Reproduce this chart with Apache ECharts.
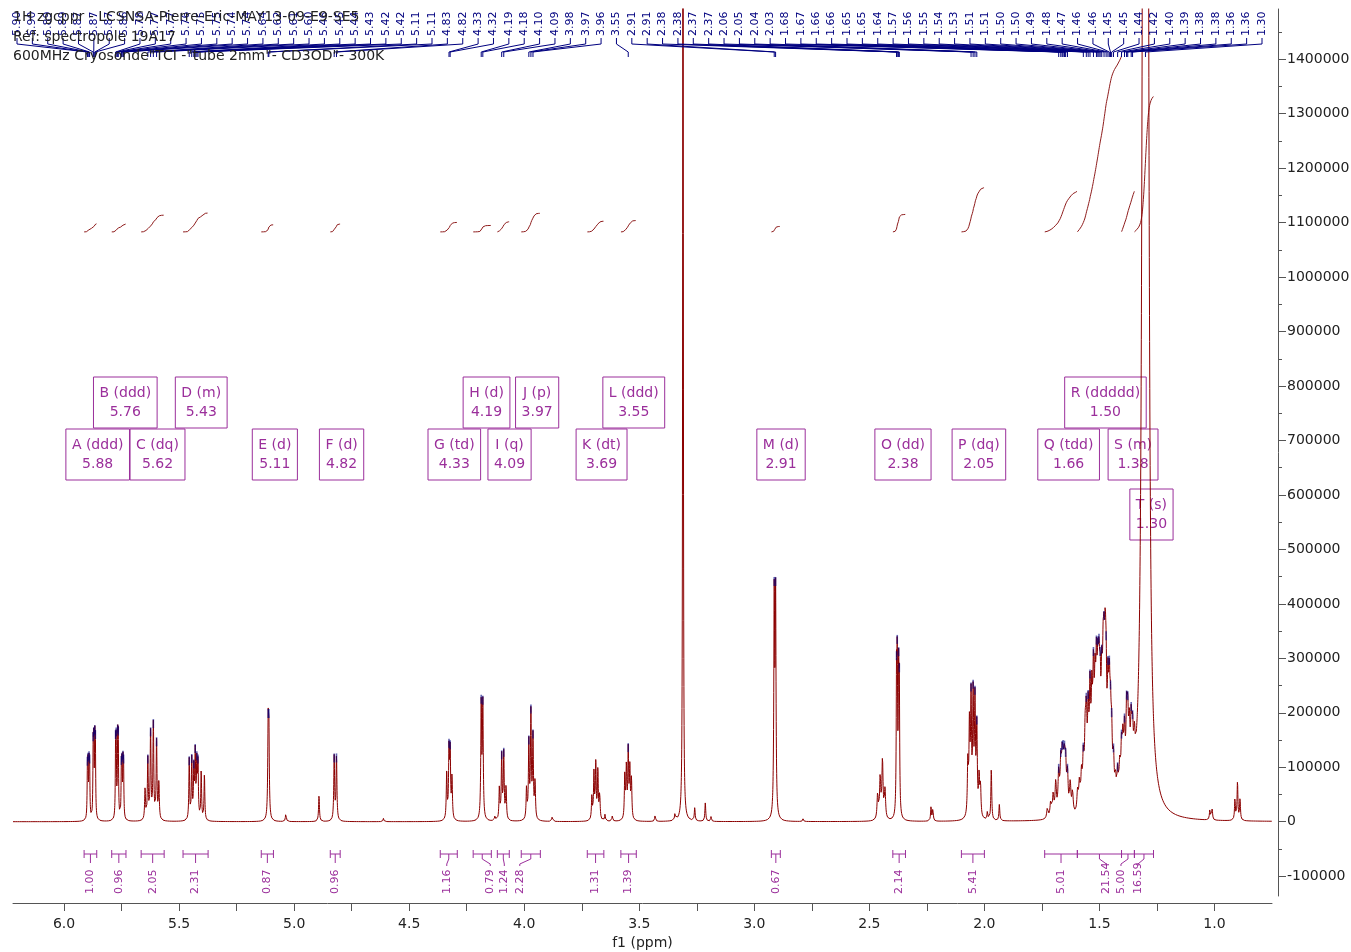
<!DOCTYPE html>
<html>
<head>
<meta charset="utf-8">
<title>1H NMR - CD3OD</title>
<script src="https://cdn.jsdelivr.net/npm/echarts@6/dist/echarts.min.js"></script>
<style>
  html, body { margin: 0; padding: 0; background: #ffffff; }
  #chart { width: 1351px; height: 952px; }
</style>
</head>
<body>
<div id="chart"></div>
<script>
// ---- Resolved lines of each multiplet: [shift (ppm), height] ----
const sigA = [[5.8985, 87000], [5.8960, 87000], [5.8915, 89000], [5.8890, 89000],
              [5.8735, 120000], [5.8710, 120000], [5.8665, 124000], [5.8640, 124000]];
const sigB = [[5.7760, 126000], [5.7735, 126000], [5.7670, 130000], [5.7645, 130000],
              [5.7510, 86000], [5.7485, 86000], [5.7440, 90000], [5.7415, 90000]];
const sigC = [[5.648, 58000], [5.636, 112000], [5.624, 160000], [5.612, 176000], [5.598, 144000], [5.588, 68000]];
const sigD = [[5.456, 112000], [5.445, 112000], [5.436, 90000], [5.430, 118000], [5.423, 100000], [5.418, 100000],
              [5.404, 90000], [5.390, 85000]];
const sigE = [[5.113, 152000], [5.110, 152000]];
const sigF = [[4.826, 118000], [4.816, 118000]];
const sigG = [[4.337, 85000], [4.327, 125000], [4.322, 120000], [4.314, 76000]];
const sigH = [[4.187, 212000], [4.180, 210000]];
const sigI = [[4.108, 60000], [4.098, 118000], [4.089, 123000], [4.079, 62000]];
const sigJ = [[3.990, 58000], [3.980, 140000], [3.971, 195000], [3.962, 150000], [3.953, 70000]];
const sigK = [[3.706, 44000], [3.697, 86000], [3.689, 102000], [3.680, 91000], [3.672, 48000]];
const sigL = [[3.563, 80000], [3.556, 94000], [3.548, 124000], [3.541, 90000], [3.534, 73000]];
const sigSolvent = [[3.3100, 3000000]];
const sigM = [[2.9135, 400000], [2.9075, 400000]];
const sigN = [[2.464, 48000], [2.453, 76000], [2.443, 108000], [2.432, 54000]];
const sigO = [[2.3818, 230000], [2.3788, 252000], [2.3728, 232000], [2.3698, 212000]];
const sigP = [[2.072, 95000], [2.065, 160000], [2.058, 210000], [2.049, 215000], [2.041, 205000], [2.033, 160000], [2.023, 72000], [2.017, 58000]];
const sigQ = [[1.726, 20000], [1.712, 28000], [1.701, 40000], [1.690, 60000], [1.677, 75000], [1.668, 85000], [1.662, 70000],
              [1.658, 70000], [1.652, 80000], [1.647, 75000], [1.639, 70000], [1.627, 55000], [1.617, 40000]];
const sigR = [[1.595, 38000], [1.587, 50000], [1.578, 60000], [1.570, 85000], [1.562, 110000], [1.557, 140000], [1.549, 150000],
              [1.541, 185000], [1.533, 165000], [1.526, 200000], [1.519, 165000], [1.513, 190000], [1.507, 165000], [1.502, 165000],
              [1.497, 155000], [1.490, 170000], [1.484, 170000], [1.480, 165000], [1.475, 195000], [1.471, 160000], [1.463, 170000],
              [1.457, 165000], [1.452, 115000], [1.447, 100000], [1.439, 75000]];
const sigS = [[1.430, 40000], [1.421, 55000], [1.412, 60000], [1.404, 90000], [1.398, 90000], [1.391, 110000], [1.382, 130000],
              [1.377, 115000], [1.370, 100000], [1.362, 105000], [1.356, 80000], [1.348, 60000]];
const sigT = [[1.311, 900000], [1.305, 1300000], [1.300, 1500000], [1.295, 1300000], [1.289, 900000]];
const sigMinor = [[5.036, 16000], [4.892, 48000], [4.612, 6000], [4.127, 9000], [3.878, 10000], [3.649, 12000], [3.617, 10000],
                  [3.431, 12000], [3.345, 12000], [3.259, 24000], [3.213, 34000], [3.188, 9000], [2.788, 5000], [2.232, 26000],
                  [2.224, 22000], [1.987, 15000], [1.970, 95000], [1.935, 30000], [1.020, 20000], [1.010, 20000],
                  [0.911, 40000], [0.900, 70000], [0.889, 40000]];

// ---- Picked peaks (ppm) ----
const pickShifts = [
  5.8985, 5.8960, 5.8915, 5.8890, 5.8735, 5.8710, 5.8665, 5.8640,
  5.7760, 5.7735, 5.7670, 5.7645, 5.7510, 5.7485, 5.7440, 5.7415,
  5.636, 5.624, 5.612, 5.598,
  5.456, 5.4452, 5.436, 5.430, 5.423, 5.418,
  5.113, 5.110, 4.826, 4.816, 4.327, 4.322, 4.187, 4.180, 4.098, 4.089,
  3.980, 3.971, 3.962, 3.548, 2.9135, 2.9075, 2.3818, 2.3788, 2.3728, 2.3698,
  2.058, 2.049, 2.041, 2.033,
  1.677, 1.668, 1.662, 1.658, 1.652, 1.647, 1.639,
  1.570, 1.557, 1.549, 1.541, 1.526, 1.513, 1.507, 1.502, 1.497, 1.490, 1.480, 1.471, 1.463, 1.457,
  1.452, 1.447, 1.439, 1.421, 1.404, 1.391, 1.382, 1.377, 1.362, 1.356, 1.300
];

// ---- Multiplet report ----
const multLetters = ['A', 'B', 'C', 'D', 'E', 'F', 'G', 'H', 'I', 'J', 'K', 'L', 'M', 'O', 'P', 'Q', 'R', 'S', 'T'];
const multTypes = ['ddd', 'ddd', 'dq', 'm', 'd', 'd', 'td', 'd', 'q', 'p', 'dt', 'ddd', 'd', 'dd', 'dq', 'tdd', 'ddddd', 'm', 's'];
const multShifts = [5.88, 5.76, 5.62, 5.43, 5.11, 4.82, 4.33, 4.19, 4.09, 3.97, 3.69, 3.55, 2.91, 2.38, 2.05, 1.66, 1.50, 1.38, 1.30];

// ---- Integration regions ----
const intFrom = [5.913, 5.793, 5.665, 5.483, 5.143, 4.843, 4.365, 4.222, 4.117, 4.013, 3.726, 3.580, 2.926, 2.398, 2.100, 1.738, 1.596, 1.404, 1.348];
const intTo = [5.858, 5.731, 5.565, 5.374, 5.090, 4.800, 4.291, 4.143, 4.065, 3.930, 3.654, 3.513, 2.887, 2.343, 2.000, 1.596, 1.404, 1.348, 1.265];
const intValues = [1.00, 0.96, 2.05, 2.31, 0.87, 0.96, 1.16, 0.79, 1.24, 2.28, 1.31, 1.39, 0.67, 2.14, 5.41, 5.01, 21.54, 5.00, 16.59];

// ---- Axis ticks ----
const xLabelValues = [1.0, 1.5, 2.0, 2.5, 3.0, 3.5, 4.0, 4.5, 5.0, 5.5, 6.0];
const xTickValues = [1.0, 1.25, 1.5, 1.75, 2.0, 2.25, 2.5, 2.75, 3.0, 3.25, 3.5, 3.75, 4.0, 4.25, 4.5, 4.75, 5.0, 5.25, 5.5, 5.75, 6.0];
const yLabelValues = [-100000, 0, 100000, 200000, 300000, 400000, 500000, 600000, 700000, 800000, 900000, 1000000, 1100000, 1200000, 1300000, 1400000];
const yMinorValues = [-50000, 50000, 150000, 250000, 350000, 450000, 550000, 650000, 750000, 850000, 950000, 1050000, 1150000, 1250000, 1350000, 1450000];

// ---- Styling / layout ----
const FONT = '"DejaVu Sans", Verdana, sans-serif';
const RED = '#8b0000';
const INT_RED = '#8f1d1d';
const NAVY = '#00007f';
const PURPLE = '#9b2f9b';
const AXIS = '#555555';
const TEXT = '#222222';

// line half-width at half height (ppm) for each multiplet
const lineGroups = [
  [sigA, 0.0015], [sigB, 0.0015], [sigC, 0.0022], [sigD, 0.0020], [sigE, 0.0022], [sigF, 0.0022],
  [sigG, 0.0022], [sigH, 0.0022], [sigI, 0.0022], [sigJ, 0.0022], [sigK, 0.0022], [sigL, 0.0022],
  [sigSolvent, 0.0012], [sigM, 0.0022], [sigN, 0.003], [sigO, 0.0018], [sigP, 0.0025],
  [sigQ, 0.0035], [sigR, 0.0035], [sigS, 0.0035], [sigT, 0.006], [sigMinor, 0.0022]
];
const lines = [];
lineGroups.forEach(([g, w]) => g.forEach(([d, h]) => lines.push([d, h, w])));

// Lorentzian line-shape sum
function intensity(ppm) {
  let s = 0;
  for (let k = 0; k < lines.length; k++) {
    const u = (ppm - lines[k][0]) / lines[k][2];
    s += lines[k][1] / (1 + u * u);
  }
  return s;
}

const X_MIN = 0.75, X_MAX = 6.222, STEP = 0.0004;
const Y_MIN = -136400, Y_MAX = 1492300;
const spectrum = [];
for (let p = X_MAX; p >= X_MIN; p -= STEP) spectrum.push([p, intensity(p)]);

// integral curves (running sum over each region, scaled to the reported value)
const INT_BASE = 1083000, INT_UNIT = 15000;
const integralSeries = intFrom.map((from, i) => {
  const to = intTo[i];
  const pts = spectrum.filter(d => d[0] <= from && d[0] >= to);
  const total = pts.reduce((a, d) => a + d[1], 0);
  let cum = 0;
  const data = pts.map(d => { cum += d[1]; return [d[0], INT_BASE + cum / total * intValues[i] * INT_UNIT]; });
  return {
    type: 'line', data, showSymbol: false, silent: true, animation: false,
    lineStyle: { color: INT_RED, width: 1 }, z: 3
  };
});

// layout of the multiplet boxes (row of each box, box row tops in px)
const boxRow = [1, 0, 1, 0, 1, 1, 1, 0, 1, 0, 1, 0, 1, 1, 1, 1, 0, 1, 2];
const rowTop = [377, 429, 489];
// horizontal shift of rotated integral labels that are moved aside
const intLabelShift = [0, 0, 0, 0, 0, 0, -2, 8, 1, -11, 0, 0, 0, 0, 0, 0, 7, -7, -6];

const PICK_X0 = 17, PICK_STEP = (1262 - 17) / 81;

const chart = echarts.init(document.getElementById('chart'));

const option = {
  animation: false,
  backgroundColor: '#ffffff',
  grid: { left: 13, right: 79, top: 9, bottom: 56, containLabel: false, outerBoundsMode: 'none' },
  xAxis: {
    type: 'value', inverse: true, min: X_MIN, max: X_MAX, offset: 7,
    name: 'f1 (ppm)', nameLocation: 'middle', nameGap: 28,
    nameTextStyle: { fontFamily: FONT, fontSize: 14, color: TEXT },
    axisLine: { show: true, onZero: false, lineStyle: { color: AXIS, width: 1 } },
    axisTick: { show: true, length: 8, lineStyle: { color: AXIS }, customValues: xTickValues },
    axisLabel: { fontFamily: FONT, fontSize: 14, color: TEXT, margin: 14, customValues: xLabelValues,
                 formatter: v => Number(v).toFixed(1) },
    splitLine: { show: false }
  },
  yAxis: [{
    type: 'value', position: 'right', offset: 6, min: Y_MIN, max: Y_MAX,
    axisLine: { show: true, onZero: false, lineStyle: { color: AXIS, width: 1 } },
    axisTick: { show: true, length: 8, lineStyle: { color: AXIS }, customValues: yLabelValues },
    axisLabel: { fontFamily: FONT, fontSize: 14, color: TEXT, margin: 9, customValues: yLabelValues,
                 formatter: v => String(v) },
    splitLine: { show: false }
  }, {
    type: 'value', position: 'right', offset: 6, min: Y_MIN, max: Y_MAX,
    axisLine: { show: false, onZero: false },
    axisTick: { show: true, length: 4, lineStyle: { color: AXIS }, customValues: yMinorValues },
    axisLabel: { show: false },
    splitLine: { show: false }
  }],
  graphic: [
    { type: 'text', left: 13, top: 10, z: 50, style: { text: '1H zgcppr - LCSNSA-Pierre-Eric-MAY13-09-E9-SE5', font: '14px ' + FONT, fill: TEXT } },
    { type: 'text', left: 13, top: 30, z: 50, style: { text: 'Réf: spectropole 19A17', font: '14px ' + FONT, fill: TEXT } },
    { type: 'text', left: 13, top: 49, z: 50, style: { text: '600MHz Cryosonde"TCI -"tube 2mm"- CD3OD"- 300K', font: '14px ' + FONT, fill: TEXT } }
  ],
  series: [
    {
      type: 'line', data: spectrum, showSymbol: false, silent: true, clip: true, sampling: false,
      lineStyle: { color: RED, width: 1 }, z: 4
    },
    ...integralSeries,
    {
      // peak-pick marks on top of the picked lines
      type: 'custom', silent: true, z: 5,
      data: pickShifts.map(p => [p, intensity(p)]),
      renderItem(params, api) {
        const pt = api.coord([api.value(0), api.value(1)]);
        if (pt[1] < params.coordSys.y + 2) return null;
        return { type: 'line', shape: { x1: pt[0], y1: pt[1] - 1, x2: pt[0], y2: pt[1] + 8 },
                 style: { stroke: NAVY, lineWidth: 1.6, opacity: 0.6 } };
      }
    },
    {
      // rotated peak labels with leader lines
      type: 'custom', silent: true, z: 6,
      data: pickShifts.map((p, i) => [p, i]),
      renderItem(params, api) {
        const i = api.value(1);
        const px = api.coord([api.value(0), 0])[0];
        const lx = PICK_X0 + i * PICK_STEP;
        return {
          type: 'group', children: [
            { type: 'text', x: lx, y: 36, rotation: Math.PI / 2,
              style: { text: pickShifts[i].toFixed(2), font: '11px ' + FONT, fill: NAVY, align: 'left', verticalAlign: 'middle' } },
            { type: 'polyline', shape: { points: [[lx, 38], [lx, 44], [px, 52], [px, 57]] },
              style: { stroke: NAVY, lineWidth: 1, fill: null } }
          ]
        };
      }
    },
    {
      // multiplet boxes
      type: 'custom', silent: true, z: 2,
      data: multShifts.map((s, i) => [s, i]),
      renderItem(params, api) {
        const i = api.value(1);
        const x = api.coord([api.value(0), 0])[0] + 6;
        return {
          type: 'text', x: x, y: rowTop[boxRow[i]],
          style: {
            text: multLetters[i] + ' (' + multTypes[i] + ')\n' + multShifts[i].toFixed(2),
            font: '14px ' + FONT, fill: PURPLE, align: 'center', verticalAlign: 'top',
            lineHeight: 19, padding: [7, 6, 6, 6], borderColor: PURPLE, borderWidth: 1
          }
        };
      }
    },
    {
      // integration brackets under the baseline
      type: 'custom', silent: true, z: 2,
      data: intFrom.map((f, i) => [f, i]),
      renderItem(params, api) {
        const i = api.value(1);
        const x1 = api.coord([intFrom[i], 0])[0];
        const x2 = api.coord([intTo[i], 0])[0];
        const cx = (x1 + x2) / 2;
        const lx = cx + intLabelShift[i];
        const stem = intLabelShift[i] === 0 ? [[cx, 854], [cx, 863]] : [[cx, 854], [cx, 859], [lx, 864], [lx, 866]];
        const st = { stroke: PURPLE, lineWidth: 1, fill: null };
        return {
          type: 'group', children: [
            { type: 'line', shape: { x1: x1, y1: 854, x2: x2, y2: 854 }, style: st },
            { type: 'line', shape: { x1: x1, y1: 850, x2: x1, y2: 858 }, style: st },
            { type: 'line', shape: { x1: x2, y1: 850, x2: x2, y2: 858 }, style: st },
            { type: 'polyline', shape: { points: stem }, style: st },
            { type: 'text', x: lx, y: 894, rotation: Math.PI / 2,
              style: { text: intValues[i].toFixed(2), font: '11px ' + FONT, fill: PURPLE, align: 'left', verticalAlign: 'middle' } }
          ]
        };
      }
    }
  ]
};

chart.setOption(option);
</script>
</body>
</html>
